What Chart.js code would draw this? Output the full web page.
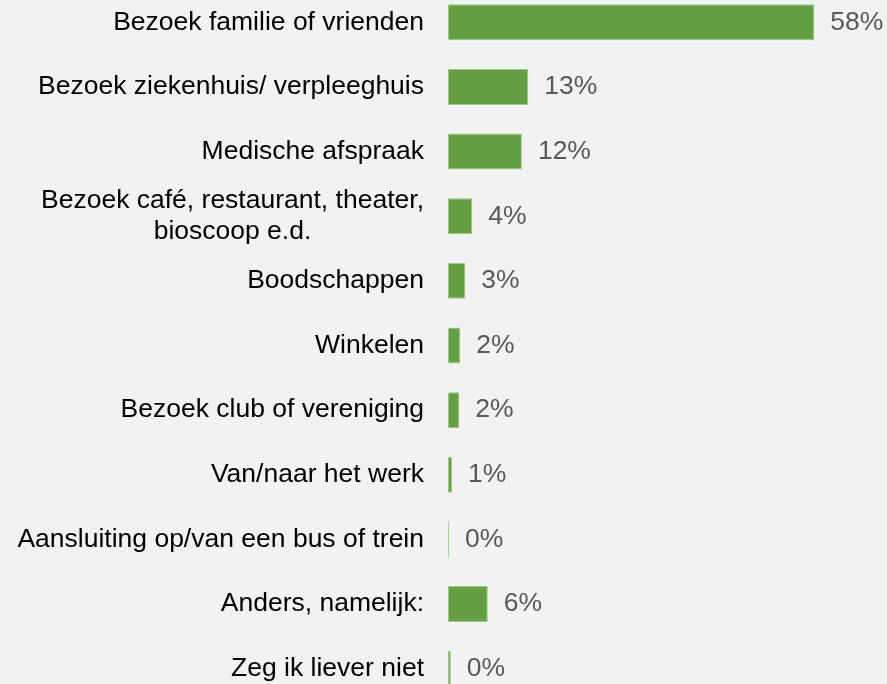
<!DOCTYPE html>
<html lang="nl">
<head>
  <meta charset="UTF-8">
  <title>Reden verplaatsing</title>
  <script src="https://cdn.jsdelivr.net/npm/chart.js"></script>
  <style>
    html, body { margin: 0; padding: 0; background: #f2f2f2; overflow: hidden; }
    .wrap { position: absolute; left: 0; top: -10px; width: 887px; height: 711px; }
  </style>
</head>
<body>
  <div class="wrap">
    <canvas id="chart"></canvas>
  </div>

  <script>
  // categorieen en percentages
  const categories = [
    'Bezoek familie of vrienden',
    'Bezoek ziekenhuis/ verpleeghuis',
    'Medische afspraak',
    ['Bezoek café, restaurant, theater,', 'bioscoop e.d.'],
    'Boodschappen',
    'Winkelen',
    'Bezoek club of vereniging',
    'Van/naar het werk',
    'Aansluiting op/van een bus of trein',
    'Anders, namelijk:',
    'Zeg ik liever niet'
  ];
  const percentages = [58, 12.7, 11.7, 3.85, 2.75, 1.95, 1.8, 0.63, 0.15, 6.3, 0.45];

  const fontFamily = '"Liberation Sans", Arial, sans-serif';
  const font = '26.5px ' + fontFamily;

  // categorie-labels: rechts uitgelijnd, meerdere regels gecentreerd onder elkaar
  const categoryLabels = {
    id: 'categoryLabels',
    afterDraw(chart) {
      const ctx = chart.ctx;
      const yScale = chart.scales.y;
      const right = chart.chartArea.left - 24;
      const lineHeight = 31;
      ctx.save();
      ctx.font = font;
      ctx.fillStyle = '#000';
      ctx.textBaseline = 'middle';
      categories.forEach(function(label, i) {
        const lines = Array.isArray(label) ? label : [label];
        const y = yScale.getPixelForTick(i);
        const widest = Math.max.apply(null, lines.map(l => ctx.measureText(l).width));
        const cx = right - widest / 2;
        ctx.textAlign = 'center';
        lines.forEach(function(line, j) {
          const ly = y + (j - (lines.length - 1) / 2) * lineHeight;
          ctx.fillText(line, cx, ly);
        });
      });
      ctx.restore();
    }
  };

  // percentage achter elke balk
  const valueLabels = {
    id: 'valueLabels',
    afterDatasetsDraw(chart) {
      const ctx = chart.ctx;
      const meta = chart.getDatasetMeta(0);
      ctx.save();
      ctx.font = font;
      ctx.fillStyle = '#595959';
      ctx.textAlign = 'left';
      ctx.textBaseline = 'middle';
      meta.data.forEach(function(bar, i) {
        ctx.fillText(Math.round(percentages[i]) + '%', bar.x + 16, bar.y);
      });
      ctx.restore();
    }
  };

  const ctx = document.getElementById('chart').getContext('2d');
  const chart = new Chart(ctx, {
    type: 'bar',
    data: {
      labels: categories,
      datasets: [{
        data: percentages,
        backgroundColor: '#64a043',
        borderColor: 'rgba(150, 200, 120, 0.9)',
        borderWidth: 1,
        borderSkipped: false,
        categoryPercentage: 1,
        barPercentage: 0.557
      }]
    },
    options: {
      indexAxis: 'y',
      responsive: true,
      maintainAspectRatio: false,
      animation: false,
      layout: { padding: { top: 0, bottom: 0, left: 0, right: 28.5 } },
      scales: {
        x: {
          display: false,
          min: 0,
          max: 65
        },
        y: {
          grid: { display: false, drawTicks: false },
          border: { display: false },
          ticks: { display: false, autoSkip: false },
          afterFit: function(scale) {
            scale.width = 448;
            scale.paddingTop = 0;
            scale.paddingBottom = 0;
          }
        }
      },
      plugins: {
        legend: { display: false },
        tooltip: { enabled: false }
      }
    },
    plugins: [valueLabels, categoryLabels]
  });
  </script>
</body>
</html>
